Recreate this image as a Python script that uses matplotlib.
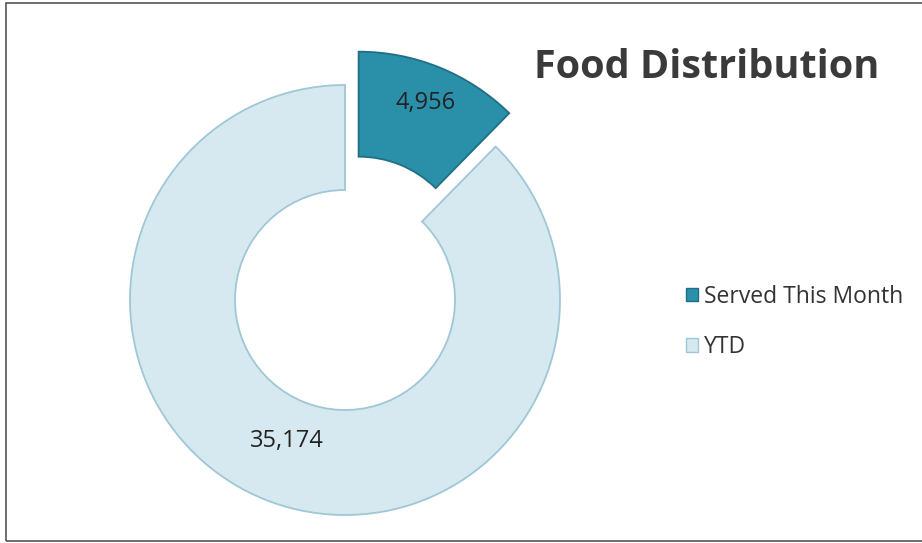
import matplotlib
matplotlib.use('Agg')
import numpy as np
import matplotlib.pyplot as plt
from matplotlib.patches import Rectangle, Patch

plt.rcParams['font.family'] = ['Open Sans', 'DejaVu Sans']

# data
categories = ["Served This Month", "YTD"]
values = [4956, 35174]
value_labels = ["4,956", "35,174"]
colors = ["#2a8fa9", "#d6e9f0"]
edge_colors = ["#1f6f85", "#9fc7d5"]
title = "Food Distribution"

W, H = 922, 543
fig = plt.figure(figsize=(W / 100, H / 100), dpi=100)
ax = fig.add_axes([0, 0, 1, 1])

# chart area border
fig.patches.append(Rectangle((6 / W, 2 / H), 1.0, (H - 5) / H, transform=fig.transFigure,
                             fill=False, edgecolor="#555555", linewidth=1.2))

R = 215
center = (345, H - 300)
# explode is in data units (pixels here)
wedges, texts = ax.pie(
    values, radius=R, center=center, startangle=90, counterclock=False,
    explode=[36, 0], colors=colors,
    wedgeprops=dict(width=105, linewidth=1.3), frame=True)
ax.set_xlim(0, W)
ax.set_ylim(0, H)
ax.set_aspect('equal')
ax.axis('off')
for w, ec in zip(wedges, edge_colors):
    w.set_edgecolor(ec)

# value labels, placed along each wedge's middle angle
label_dist = [0.82, 0.71]
for w, lbl, d in zip(wedges, value_labels, label_dist):
    ang = np.deg2rad((w.theta1 + w.theta2) / 2)
    cx, cy = w.center
    ax.text(cx + d * R * np.cos(ang), cy + d * R * np.sin(ang), lbl,
            ha='center', va='center', fontsize=17, color="#222222")

fig.text(534 / W, 1 - 68 / H, title, ha='left', va='center',
         fontsize=28.5, fontweight='bold', color="#3a3a3a")

handles = [Patch(facecolor=c, edgecolor=e) for c, e in zip(colors, edge_colors)]
leg = fig.legend(handles, categories, loc='upper left', bbox_to_anchor=(665 / W, 1 - 264 / H),
                 frameon=False, fontsize=16.5, handlelength=0.55, handleheight=0.55,
                 handletextpad=0.25, labelspacing=1.15, labelcolor="#333333")

plt.savefig("out.png", dpi=100)
